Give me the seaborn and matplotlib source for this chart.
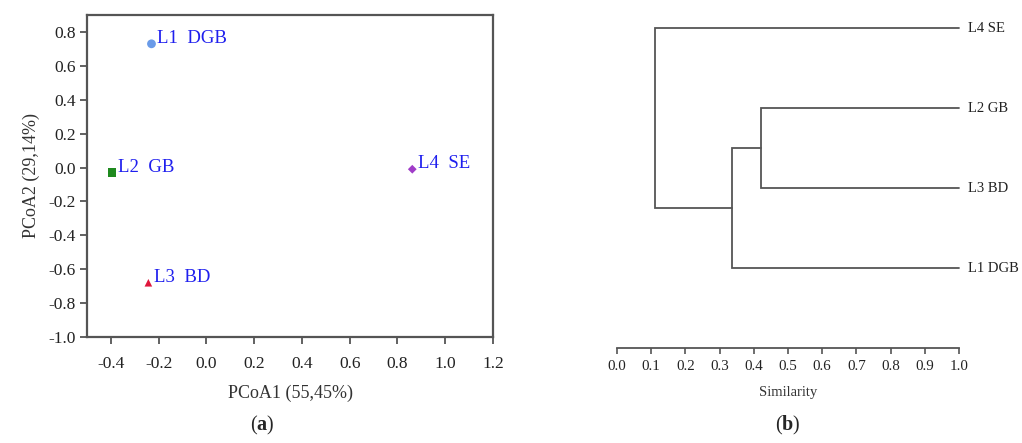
import numpy as np, matplotlib
matplotlib.use("Agg")
import matplotlib.pyplot as plt
import seaborn as sns
import pandas as pd

# PCoA scores
SITES = ["L1", "L2", "L3", "L4"]
SITE_NAMES = ["DGB", "GB", "BD", "SE"]
PCOA1 = [-0.23, -0.395, -0.243, 0.862]
PCOA2 = [0.73, -0.03, -0.68, -0.01]
MARKERS = {"L1": "o", "L2": "s", "L3": "^", "L4": "D"}
COLORS = {"L1": "#6a9be8", "L2": "#1f8a1f", "L3": "#e0163c", "L4": "#a03cc8"}
SIZES = {"L1": 40, "L2": 40, "L3": 30, "L4": 20}

# dendrogram (similarity), leaves top to bottom
LEAVES = ["L4 SE", "L2 GB", "L3 BD", "L1 DGB"]
MERGE_A = [1, 4, 0]      # node ids: leaves 0..3, merges 4..
MERGE_B = [2, 3, 5]
MERGE_SIM = [0.42, 0.335, 0.11]

XTICKS_A = [-0.4, -0.2, 0.0, 0.2, 0.4, 0.6, 0.8, 1.0, 1.2]
YTICKS_A = [-1.0, -0.8, -0.6, -0.4, -0.2, 0.0, 0.2, 0.4, 0.6, 0.8]
XTICKS_B = [0.0, 0.1, 0.2, 0.3, 0.4, 0.5, 0.6, 0.7, 0.8, 0.9, 1.0]

sns.set_style("ticks")
plt.rcParams["font.family"] = ["Liberation Serif", "DejaVu Serif"]
plt.rcParams["axes.unicode_minus"] = False
plt.rcParams["mathtext.fontset"] = "custom"
plt.rcParams["mathtext.rm"] = "Liberation Serif"
plt.rcParams["mathtext.bf"] = "Liberation Serif:bold"

W, H = 1022, 443
fig = plt.figure(figsize=(W/100, H/100), dpi=100)
SP = "#555555"

# ---- (a) PCoA ----
ax = fig.add_axes([87/W, (H-337)/H, 406/W, 322/H])
df = pd.DataFrame({"site": SITES, "x": PCOA1, "y": PCOA2})
for s in SITES:
    d = df[df.site == s]
    sns.scatterplot(data=d, x="x", y="y", marker=MARKERS[s], color=COLORS[s],
                    s=SIZES[s], edgecolor="none", ax=ax, legend=False, zorder=3)
for s, n, x, y in zip(SITES, SITE_NAMES, PCOA1, PCOA2):
    ax.annotate(f"{s}  {n}", (x, y), xytext=(4, 4), textcoords="offset points",
                color="#1f1fee", fontsize=13.5, va="center", ha="left")
ax.set_xlim(-0.5, 1.2); ax.set_ylim(-1.0, 0.9)
ax.set_xticks(XTICKS_A); ax.set_yticks(YTICKS_A)
ax.set_xticklabels([f"{v:.1f}" for v in XTICKS_A])
ax.set_yticklabels([f"{v:.1f}" for v in YTICKS_A])
ax.tick_params(labelsize=12.5, length=5, width=1.3, color=SP, labelcolor="#222222")
ax.tick_params(axis="x", pad=8.5)
ax.tick_params(axis="y", pad=3)
for sp in ax.spines.values():
    sp.set_visible(True); sp.set_color(SP); sp.set_linewidth(1.6)
ax.set_xlabel("PCoA1 (55,45%)", fontsize=13, color="#333333", labelpad=9)
ax.set_ylabel("PCoA2 (29,14%)", fontsize=13, color="#333333", labelpad=6)

# ---- (b) dendrogram ----
bx = fig.add_axes([617/W, (H-348)/H, 342/W, 340/H])
pos = {i: (1.0, float(i)) for i in range(len(LEAVES))}
for k, (a, b, sim) in enumerate(zip(MERGE_A, MERGE_B, MERGE_SIM)):
    xa, ya = pos[a]; xb, yb = pos[b]
    bx.plot([xa, sim, sim, xb], [ya, ya, yb, yb], color=SP, lw=1.3, clip_on=False,
            solid_joinstyle="miter")
    pos[len(LEAVES)+k] = (sim, (ya+yb)/2)
for i, lab in enumerate(LEAVES):
    bx.text(1.025, i, lab, fontsize=10.5, va="center", ha="left", color="#222222")
bx.set_xlim(0, 1); bx.set_ylim(4.0, -0.25)
bx.set_xticks(XTICKS_B); bx.set_xticklabels([f"{v:.1f}" for v in XTICKS_B])
bx.set_yticks([])
for k in ["top", "right", "left"]:
    bx.spines[k].set_visible(False)
bx.spines["bottom"].set_color(SP); bx.spines["bottom"].set_linewidth(1.3)
bx.tick_params(axis="x", labelsize=10.8, length=4, width=1.2, color=SP, labelcolor="#222222", pad=5)
bx.set_xlabel("Similarity", fontsize=10.5, color="#333333", labelpad=9)

fig.text(262/W, 1-425/H, r"($\mathbf{a}$)", fontsize=14.5, ha="center", va="center")
fig.text(788/W, 1-425/H, r"($\mathbf{b}$)", fontsize=14.5, ha="center", va="center")

fig.savefig("out.png", dpi=100)
